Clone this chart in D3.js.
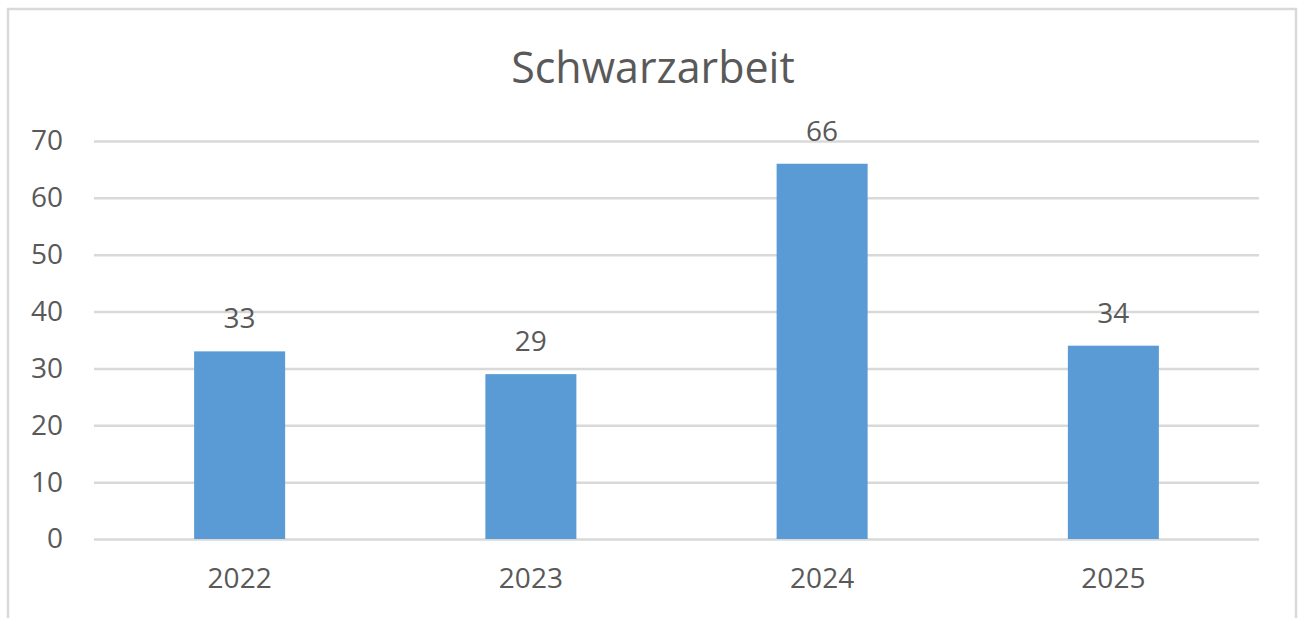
<!DOCTYPE html>
<html><head><meta charset="utf-8">
<script src="https://cdn.jsdelivr.net/npm/d3@7"></script>
<style>body{margin:0;background:#fff}</style>
</head><body>
<svg id="c" width="1298" height="618"></svg>
<script>
const categories = ["2022","2023","2024","2025"];
const values = [33,29,66,34];
const yTicks = [0,10,20,30,40,50,60,70];
const title = "Schwarzarbeit";

const svg = d3.select("#c");
const font = "'Open Sans', sans-serif";
const textColor = "#595959";
svg.append("rect").attr("x",8).attr("y",9).attr("width",1288).attr("height",640)
  .attr("fill","#fff").attr("stroke","#d9d9d9").attr("stroke-width",2.5);

const x = d3.scaleBand().domain(categories).range([94,1259]).padding(0);
const y = d3.scaleLinear().domain([0,70]).range([539,141]);

const gy = svg.append("g").attr("transform","translate(94,0)")
  .call(d3.axisLeft(y).tickValues(yTicks).tickSize(-1165).tickPadding(31));
gy.select(".domain").remove();
gy.selectAll(".tick line").attr("stroke","#d9d9d9").attr("stroke-width",2.5);
gy.selectAll(".tick text").attr("fill",textColor).style("font-family",font).style("font-size","28px");

const barW = x.bandwidth()*0.3125;
svg.append("g").selectAll("rect").data(values).join("rect")
  .attr("x",(d,i)=>x(categories[i])+x.bandwidth()/2-barW/2)
  .attr("y",d=>y(d)).attr("width",barW).attr("height",d=>y(0)-y(d))
  .attr("fill","#5b9bd5");

svg.append("g").selectAll("text").data(values).join("text")
  .attr("x",(d,i)=>x(categories[i])+x.bandwidth()/2)
  .attr("y",d=>y(d)-23).attr("text-anchor","middle")
  .attr("fill",textColor).style("font-family",font).style("font-size","28px")
  .text(d=>d);

const gx = svg.append("g").attr("transform","translate(0,539)")
  .call(d3.axisBottom(x).tickSize(0).tickPadding(29));
gx.select(".domain").remove();
gx.selectAll(".tick text").attr("fill",textColor).style("font-family",font).style("font-size","28px");

svg.append("text").attr("x",653).attr("y",83).attr("text-anchor","middle")
  .attr("fill",textColor).style("font-family",font).style("font-size","43px").text(title);
</script>
</body></html>
